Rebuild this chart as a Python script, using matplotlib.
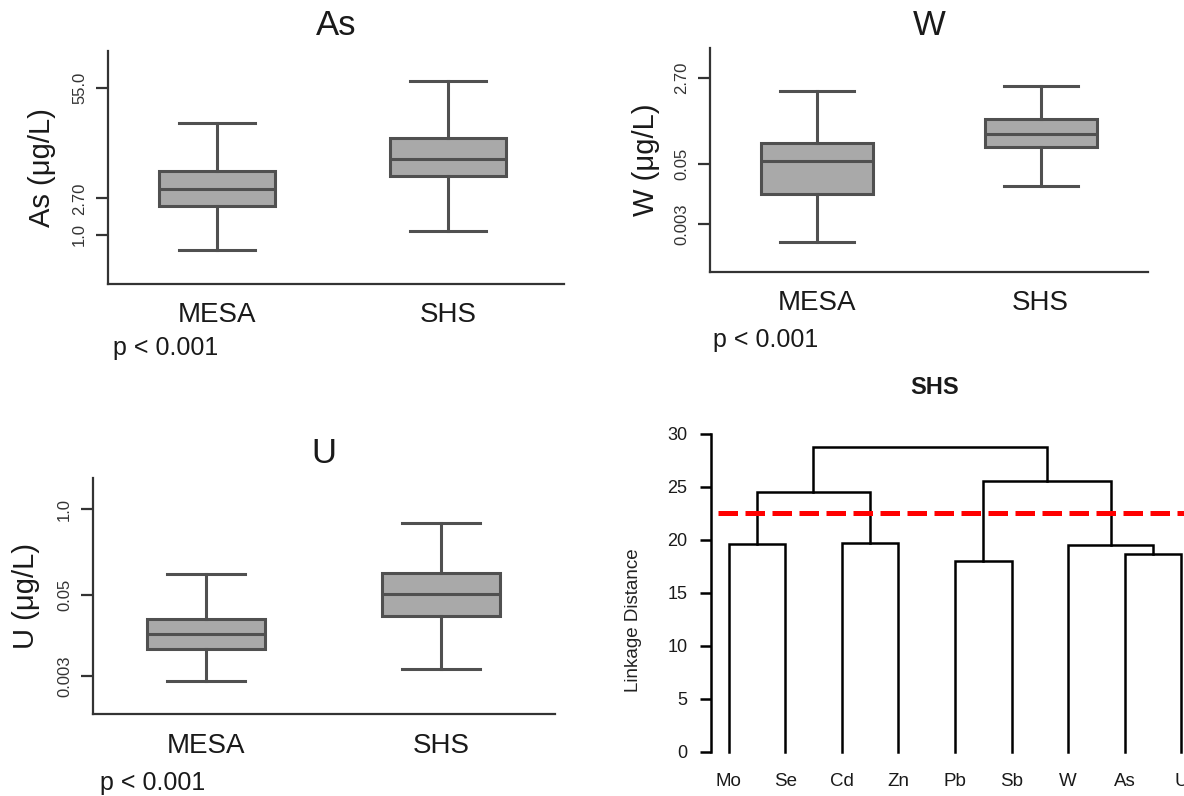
import matplotlib
matplotlib.use("Agg")
import matplotlib.pyplot as plt
from matplotlib.ticker import NullLocator

plt.rcParams['font.family'] = ['Liberation Sans', 'DejaVu Sans']

# ---------------- data ----------------
groups = ["MESA", "SHS"]

as_whislo = [0.66, 1.12]
as_q1 = [2.2, 4.99]
as_med = [3.5, 7.93]
as_q3 = [5.72, 14.1]
as_whishi = [21.2, 66.4]
as_ticks = [1.0, 2.70, 55.0]
as_ticklabels = ["1.0", "2.70", "55.0"]

w_whislo = [0.00131, 0.0178]
w_q1 = [0.0122, 0.109]
w_med = [0.0569, 0.1995]
w_q3 = [0.131, 0.401]
w_whishi = [1.47, 1.86]
w_ticks = [0.003, 0.05, 2.70]
w_ticklabels = ["0.003", "0.05", "2.70"]

u_whislo = [0.00252, 0.00383]
u_q1 = [0.00767, 0.0242]
u_med = [0.01293, 0.052]
u_q3 = [0.0218, 0.108]
u_whishi = [0.104, 0.614]
u_ticks = [0.003, 0.05, 1.0]
u_ticklabels = ["0.003", "0.05", "1.0"]

p_text = "p < 0.001"

leaves = ["Mo", "Se", "Cd", "Zn", "Pb", "Sb", "W", "As", "U"]
# merges: (left child, right child, height); children are leaf names or merge indices
merges = [
    ("Mo", "Se", 19.65),   # 0
    ("Cd", "Zn", 19.75),   # 1
    ("Pb", "Sb", 18.05),   # 2
    ("As", "U", 18.65),    # 3
    ("W", 3, 19.5),        # 4
    (0, 1, 24.5),          # 5
    (2, 4, 25.6),          # 6
    (5, 6, 28.75),         # 7
]
cut_height = 22.5
dendro_ticks = [0, 5, 10, 15, 20, 25, 30]

# ---------------- style ----------------
FILL = "#a9a9a9"
EDGE = "#505050"
AXC = "#333333"
TXT = "#1a1a1a"

fig = plt.figure(figsize=(11.84, 7.96), dpi=100)


def make_stats(whislo, q1, med, q3, whishi):
    return [dict(whislo=a, q1=b, med=c, q3=d, whishi=e, fliers=[])
            for a, b, c, d, e in zip(whislo, q1, med, q3, whishi)]


def box_panel(rect, stats, xlim, ylim, ticks, ticklabels, title, title_pad,
              ylabel, cat_pad, p_xy):
    ax = fig.add_axes(rect)
    ax.set_yscale('log')
    lw = 2.2
    ax.bxp(stats, positions=[1, 2], widths=0.5, capwidths=0.33,
           patch_artist=True, showfliers=False,
           boxprops=dict(facecolor=FILL, edgecolor=EDGE, linewidth=lw),
           medianprops=dict(color=EDGE, linewidth=lw),
           whiskerprops=dict(color=EDGE, linewidth=lw),
           capprops=dict(color=EDGE, linewidth=lw))
    ax.set_xlim(*xlim)
    ax.set_ylim(*ylim)
    for s in ("top", "right"):
        ax.spines[s].set_visible(False)
    for s in ("left", "bottom"):
        ax.spines[s].set_color(AXC)
        ax.spines[s].set_linewidth(1.6)
    ax.set_xticks([1, 2])
    ax.set_xticklabels(groups, fontsize=20, color=TXT)
    ax.tick_params(axis='x', length=0, pad=cat_pad)
    ax.set_yticks(ticks)
    ax.set_yticklabels(ticklabels, rotation=90, va='center', fontsize=12,
                       color=AXC)
    ax.yaxis.set_minor_locator(NullLocator())
    ax.tick_params(axis='y', length=9, width=1.6, color=AXC, pad=6)
    ax.set_ylabel(ylabel, fontsize=21, color=TXT)
    ax.yaxis.set_label_coords(-0.145, 0.5)
    ax.yaxis.label.set_va('center')
    ax.set_title(title, fontsize=25, pad=title_pad, color=TXT)
    ax.text(p_xy[0], p_xy[1], p_text, transform=ax.transAxes, fontsize=18,
            ha='left', va='baseline', color=TXT)
    return ax


box_panel([108 / 1184, 1 - 284 / 796, 456 / 1184, 233 / 796],
          make_stats(as_whislo, as_q1, as_med, as_q3, as_whishi),
          (0.53, 2.5), (0.263, 150), as_ticks, as_ticklabels,
          "As", 11.5, "As (μg/L)", 13, (0.011, -0.305))

box_panel([710 / 1184, 1 - 272 / 796, 438 / 1184, 224 / 796],
          make_stats(w_whislo, w_q1, w_med, w_q3, w_whishi),
          (0.52, 2.48), (0.000326, 10.9), w_ticks, w_ticklabels,
          "W", 9.7, "W (μg/L)", 13, (0.007, -0.333))

box_panel([93 / 1184, 1 - 714 / 796, 462 / 1184, 236 / 796],
          make_stats(u_whislo, u_q1, u_med, u_q3, u_whishi),
          (0.52, 2.485), (0.0008, 2.94), u_ticks, u_ticklabels,
          "U", 11, "U (μg/L)", 13.5, (0.015, -0.324))

# ---------------- dendrogram ----------------
ax4 = fig.add_axes([711 / 1184, 1 - 764.7 / 796, 498.7 / 1184, 341.3 / 796])
ax4.set_xlim(0.69, 9.5)
ax4.set_ylim(-1.2, 31)

leaf_pos = {name: i + 1 for i, name in enumerate(leaves)}
node_x = {}
node_h = {}


def child_info(c):
    if isinstance(c, str):
        return leaf_pos[c], 0.0
    return node_x[c], node_h[c]


for i, (a, b, h) in enumerate(merges):
    xa, ha = child_info(a)
    xb, hb = child_info(b)
    ax4.plot([xa, xa, xb, xb], [ha, h, h, hb], color="black", linewidth=1.8,
             solid_joinstyle='miter', clip_on=False)
    node_x[i] = (xa + xb) / 2
    node_h[i] = h

ax4.hlines(cut_height, 0.81, 9.5, colors="#ff0000", linewidth=3.6,
           linestyles=(0, (3.9, 1.5)))

for s in ("top", "right", "bottom"):
    ax4.spines[s].set_visible(False)
ax4.spines["left"].set_bounds(0, 30)
ax4.spines["left"].set_linewidth(1.8)
ax4.set_yticks(dendro_ticks)
ax4.set_yticklabels([str(t) for t in dendro_ticks], fontsize=13, color=TXT)
ax4.tick_params(axis='y', length=8, width=1.8, pad=9)
ax4.set_xticks(range(1, len(leaves) + 1))
ax4.set_xticklabels(leaves, fontsize=13.5, color=TXT)
ax4.tick_params(axis='x', length=0, pad=6.3)
ax4.set_ylabel("Linkage Distance", fontsize=13.5, color="#222222")
ax4.yaxis.set_label_coords(-0.156, 0.424)
ax4.yaxis.label.set_va('center')

fig.text(935 / 1184, 1 - 393.5 / 796, "SHS", fontsize=17, fontweight='bold',
         ha='center', va='baseline', color=TXT)

fig.savefig("out.png", dpi=100)
